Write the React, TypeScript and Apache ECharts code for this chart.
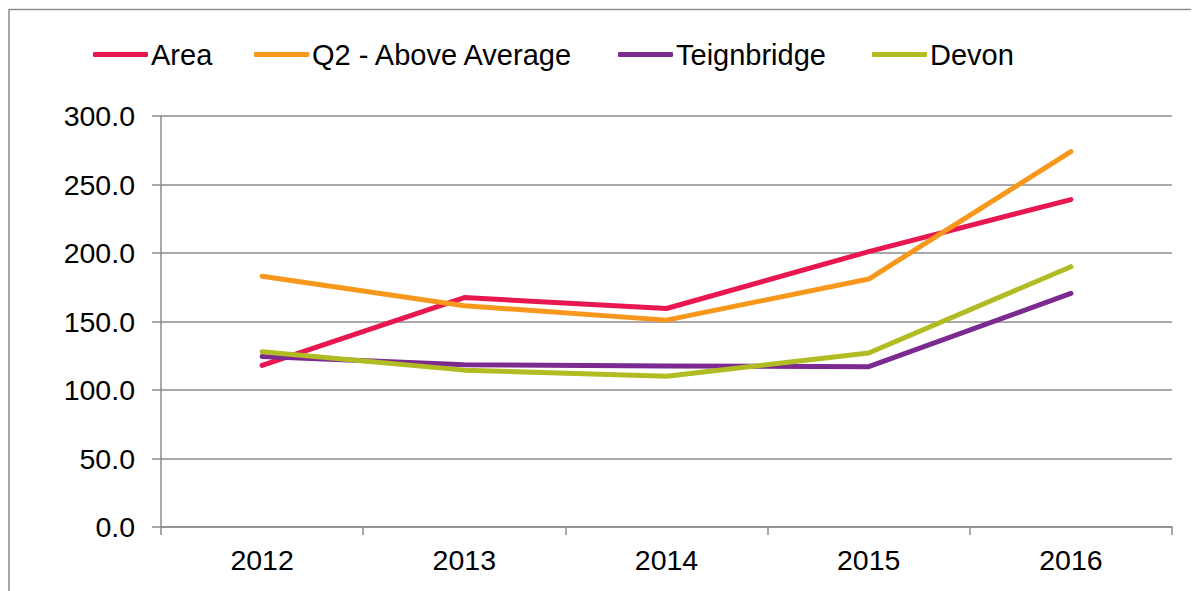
import React, { useEffect, useRef } from "react";
import * as echarts from "echarts";

const categories = ["2012", "2013", "2014", "2015", "2016"];
const areaValues = [118, 167.5, 159.5, 201, 239];
const q2Values = [183, 161.5, 151, 181, 274];
const teignbridgeValues = [124.5, 118.5, 117.5, 117, 170.5];
const devonValues = [128, 114.5, 110, 127, 190];
const seriesNames = ["Area", "Q2 - Above Average", "Teignbridge", "Devon"];
const seriesColors = ["#E8174F", "#F7981D", "#7B2A8F", "#B0BC22"];
const legendLefts = [80, 241, 605, 859];

export default function App() {
  const ref = useRef<HTMLDivElement>(null);
  useEffect(() => {
    if (!ref.current) return;
    const chart = echarts.init(ref.current, undefined, { renderer: "svg" });
    const values = [areaValues, q2Values, teignbridgeValues, devonValues];
    const font = "'Liberation Sans', Arial, sans-serif";
    chart.setOption({
      animation: false,
      textStyle: { fontFamily: font },
      graphic: [
        {
          type: "rect",
          shape: { x: 1, y: 1.5, width: 1400, height: 800 },
          style: { fill: "none", stroke: "#8c8c8c", lineWidth: 1.5 },
          silent: true,
        },
      ],
      legend: seriesNames.map((name, i) => ({
        top: 27,
        left: legendLefts[i],
        itemWidth: 55,
        itemHeight: 5,
        icon: "roundRect",
        textStyle: { fontSize: 29, color: "#000", fontFamily: font, padding: [0, 0, 0, -2] },
        data: [name],
      })),
      grid: { left: 153, top: 108, right: 27, bottom: 64 },
      xAxis: {
        type: "category",
        data: categories,
        boundaryGap: true,
        axisLine: { lineStyle: { color: "#8c8c8c", width: 1.5 } },
        axisTick: { show: true, length: 8, lineStyle: { color: "#8c8c8c", width: 1.5 } },
        axisLabel: { fontSize: 28.5, color: "#000", margin: 18, fontFamily: font },
      },
      yAxis: {
        type: "value",
        min: 0,
        max: 300,
        interval: 50,
        axisLine: { show: true, lineStyle: { color: "#8c8c8c", width: 1.5 } },
        axisTick: { show: true, length: 9, lineStyle: { color: "#8c8c8c", width: 1.5 } },
        splitLine: { show: true, lineStyle: { color: "#8c8c8c", width: 1.5 } },
        axisLabel: {
          fontSize: 28.5,
          color: "#000",
          margin: 26,
          fontFamily: font,
          formatter: (v: number) => v.toFixed(1),
        },
      },
      series: seriesNames.map((name, i) => ({
        name,
        type: "line",
        data: values[i],
        symbol: "none",
        color: seriesColors[i],
        lineStyle: { width: 5, color: seriesColors[i], cap: "round", join: "round" },
      })),
    });
    return () => chart.dispose();
  }, []);
  return <div ref={ref} style={{ width: 1191, height: 583 }} />;
}
